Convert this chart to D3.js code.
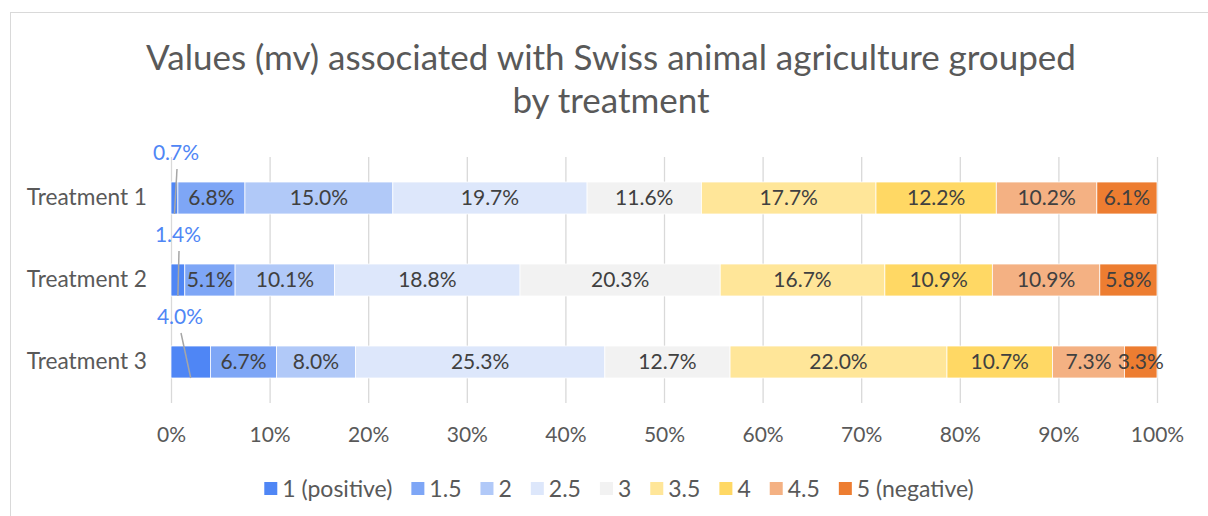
<!DOCTYPE html>
<html lang="en">
<head>
    <meta charset="UTF-8">
    <title>Values (mv) by treatment</title>
    <script src="https://cdnjs.cloudflare.com/ajax/libs/d3/7.8.4/d3.min.js"></script>
    <style>
        body { margin: 0; background: #fff; }
        svg { display: block; font-family: Lato, "Open Sans", sans-serif; }
    </style>
</head>
<body>
    <svg width="1208" height="516"></svg>

    <script>
        const treatments = ["Treatment 1", "Treatment 2", "Treatment 3"];
        const levels = ["1 (positive)", "1.5", "2", "2.5", "3", "3.5", "4", "4.5", "5 (negative)"];
        const colors = ["#4f86f5", "#7ea6f6", "#b1c9f8", "#dde7fb", "#f2f2f2", "#ffe699", "#ffd864", "#f4b183", "#ed7d31"];
        // percent per level, one array per treatment
        const treatment1 = [0.7, 6.8, 15.0, 19.7, 11.6, 17.7, 12.2, 10.2, 6.1];
        const treatment2 = [1.4, 5.1, 10.1, 18.8, 20.3, 16.7, 10.9, 10.9, 5.8];
        const treatment3 = [4.0, 6.7, 8.0, 25.3, 12.7, 22.0, 10.7, 7.3, 3.3];
        const xTicks = [0, 10, 20, 30, 40, 50, 60, 70, 80, 90, 100];

        const values = [treatment1, treatment2, treatment3];

        const svg = d3.select("svg");

        // chart frame
        svg.append("rect")
            .attr("x", 10.5).attr("y", 12.5)
            .attr("width", 1210).attr("height", 520)
            .attr("fill", "none").attr("stroke", "#d9d9d9");

        // title
        const title = svg.append("text")
            .attr("text-anchor", "middle")
            .attr("fill", "#595959")
            .style("font-size", "35px");
        title.append("tspan").attr("x", 611).attr("y", 70).text("Values (mv) associated with Swiss animal agriculture grouped");
        title.append("tspan").attr("x", 611).attr("y", 113).text("by treatment");

        const x = d3.scaleLinear().domain([0, 100]).range([171, 1157]);
        const y = d3.scaleBand().domain(treatments).range([157, 403])
            .paddingInner(0.61).paddingOuter(0.305);

        // gridlines
        svg.append("g").selectAll("line")
            .data(xTicks)
            .join("line")
            .attr("x1", d => x(d) + 0.5).attr("x2", d => x(d) + 0.5)
            .attr("y1", 157).attr("y2", 403)
            .attr("stroke", "#d9d9d9").attr("stroke-width", 1.3);

        // x axis labels
        const xAxis = svg.append("g")
            .attr("transform", "translate(0,403)")
            .call(d3.axisBottom(x).tickValues(xTicks).tickFormat(d => d + "%").tickSize(0).tickPadding(24));
        xAxis.select(".domain").remove();
        xAxis.selectAll("text").attr("fill", "#595959").style("font-size", "21px").style("font-family", "Lato, 'Open Sans', sans-serif");

        // y axis labels
        const yAxis = svg.append("g")
            .attr("transform", "translate(147,0)")
            .call(d3.axisLeft(y).tickSize(0).tickPadding(0));
        yAxis.select(".domain").remove();
        yAxis.selectAll("text").attr("fill", "#595959").style("font-size", "22.7px").style("font-family", "Lato, 'Open Sans', sans-serif");

        // stack segments
        const segments = [];
        values.forEach((vals, i) => {
            let acc = 0;
            vals.forEach((v, j) => {
                segments.push({ treatment: treatments[i], level: j, value: v, x0: acc, x1: acc + v });
                acc += v;
            });
        });

        svg.append("g").selectAll("rect")
            .data(segments)
            .join("rect")
            .attr("x", d => x(d.x0))
            .attr("width", d => x(d.x1) - x(d.x0))
            .attr("y", d => y(d.treatment))
            .attr("height", y.bandwidth())
            .attr("fill", d => colors[d.level])
            .attr("stroke", "#fff")
            .attr("stroke-width", 0.75);

        const fmt = d => d.toFixed(1) + "%";

        // labels inside segments
        svg.append("g").selectAll("text")
            .data(segments.filter(d => d.level > 0))
            .join("text")
            .attr("x", d => (x(d.x0) + x(d.x1)) / 2)
            .attr("y", d => y(d.treatment) + y.bandwidth() / 2)
            .attr("dy", "0.35em")
            .attr("text-anchor", "middle")
            .attr("fill", "#404040")
            .style("font-size", "21px")
            .text(d => fmt(d.value));

        // small first segments: labels above with leader line
        const small = segments.filter(d => d.level === 0);
        const callout = svg.append("g");
        callout.selectAll("line")
            .data(small)
            .join("line")
            .attr("x1", (d, i) => x(0) + 6 + i * 2)
            .attr("y1", d => y(d.treatment) - 13)
            .attr("x2", d => (x(d.x0) + x(d.x1)) / 2)
            .attr("y2", d => y(d.treatment) + y.bandwidth())
            .attr("stroke", "#a6a6a6")
            .attr("stroke-width", 1.5);
        callout.selectAll("text")
            .data(small)
            .join("text")
            .attr("x", (d, i) => x(0) + 5 + i * 2)
            .attr("y", d => y(d.treatment) - 29)
            .attr("dy", "0.35em")
            .attr("text-anchor", "middle")
            .attr("fill", colors[0])
            .style("font-size", "21px")
            .text(d => fmt(d.value));

        // legend
        const legend = svg.append("g").attr("transform", "translate(0,489)");
        const items = legend.selectAll("g")
            .data(levels)
            .join("g");
        items.append("rect")
            .attr("y", -7).attr("width", 13).attr("height", 13)
            .attr("fill", (d, i) => colors[i]);
        items.append("text")
            .attr("x", 18).attr("dy", "0.35em")
            .attr("fill", "#595959")
            .style("font-size", "23px")
            .text(d => d);

        let cursor = 0;
        const widths = [];
        items.each(function () {
            widths.push(this.getBBox().width);
        });
        const total = d3.sum(widths) + 19 * (widths.length - 1);
        cursor = 619 - total / 2;
        items.attr("transform", (d, i) => {
            const t = `translate(${cursor},0)`;
            cursor += widths[i] + 19;
            return t;
        });
    </script>
</body>
</html>
